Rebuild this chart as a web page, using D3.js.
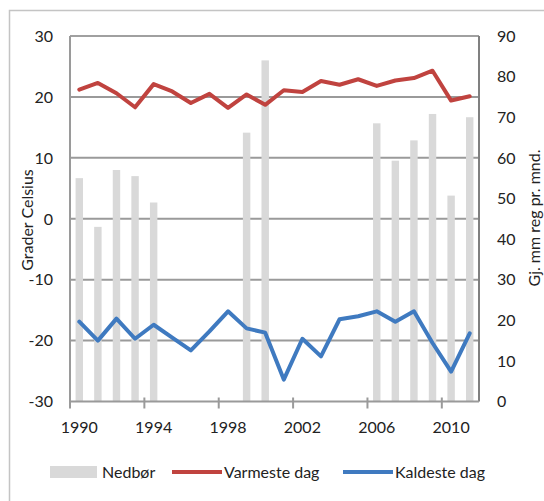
<!DOCTYPE html>
<html>
<head>
<meta charset="utf-8">
<script src="https://cdn.jsdelivr.net/npm/d3@7"></script>
<style>
  html, body { margin: 0; padding: 0; background: #fff; }
  svg { display: block; font-family: Lato, "Open Sans", sans-serif; }
</style>
</head>
<body>
<svg id="chart" width="544" height="501"></svg>
<script>
// ---- data ----
const years = [1990,1991,1992,1993,1994,1995,1996,1997,1998,1999,2000,2001,2002,2003,2004,2005,2006,2007,2008,2009,2010,2011];
const nedbor = [55,43,57,55.5,49,0,0,0,0,66.2,84,0,0,0,0,0,68.5,59.3,64.3,70.8,50.7,70];
const varmeste = [21.2,22.3,20.6,18.3,22.1,20.9,19.0,20.5,18.2,20.4,18.7,21.1,20.8,22.6,22.0,22.9,21.8,22.7,23.1,24.3,19.4,20.1];
const kaldeste = [-16.9,-20.0,-16.4,-19.7,-17.4,-19.5,-21.6,-18.5,-15.2,-18.0,-18.7,-26.4,-19.7,-22.6,-16.5,-16.0,-15.2,-16.9,-15.2,-20.4,-25.1,-18.8];
const leftTicks = [-30,-20,-10,0,10,20,30];
const rightTicks = [0,10,20,30,40,50,60,70,80,90];
const xTickLabels = [1990,1994,1998,2002,2006,2010];
const legendLabels = ["Nedbør","Varmeste dag","Kaldeste dag"];
const yLeftTitle = "Grader Celsius";
const yRightTitle = "Gj. mm reg pr. mnd.";

// ---- layout ----
const L = 70, R = 479, T = 36, B = 401.5;
const svg = d3.select("#chart");
const textColor = "#222";
const red = "#c0433f", blue = "#3f7ac0", barColor = "#d9d9d9";

// outer frame
svg.append("rect").attr("x", 9.5).attr("y", 10.5).attr("width", 560).attr("height", 520)
  .attr("fill", "none").attr("stroke", "#c4c4c4").attr("stroke-width", 1.5);

const x = d3.scaleBand().domain(years).range([L, R]).padding(0);
const yL = d3.scaleLinear().domain([-30, 30]).range([B, T]);
const yR = d3.scaleLinear().domain([0, 90]).range([B, T]);

// gridlines (left axis)
svg.append("g").selectAll("line").data(leftTicks.filter(d => d > -30)).join("line")
  .attr("x1", L).attr("x2", R).attr("y1", d => yL(d)).attr("y2", d => yL(d))
  .attr("stroke", "#9a9a9a").attr("stroke-width", 2);

// plot border: top, right
svg.append("line").attr("x1", L).attr("x2", R).attr("y1", T).attr("y2", T)
  .attr("stroke", "#a0a0a0").attr("stroke-width", 2);
svg.append("line").attr("x1", R).attr("x2", R).attr("y1", T).attr("y2", B)
  .attr("stroke", "#808080").attr("stroke-width", 2);

// bars
const bw = x.bandwidth() * 0.4;
svg.append("g").selectAll("rect").data(years.map((y, i) => ({y, v: nedbor[i]})).filter(d => d.v > 0)).join("rect")
  .attr("x", d => x(d.y) + x.bandwidth() / 2 - bw / 2)
  .attr("width", bw)
  .attr("y", d => yR(d.v))
  .attr("height", d => B - yR(d.v))
  .attr("fill", barColor);

// left axis line
svg.append("line").attr("x1", L).attr("x2", L).attr("y1", T).attr("y2", B)
  .attr("stroke", "#9a9a9a").attr("stroke-width", 2);

// bottom axis
svg.append("line").attr("x1", L).attr("x2", R).attr("y1", B).attr("y2", B)
  .attr("stroke", "#9a9a9a").attr("stroke-width", 2);
const tickIdx = years.map((d, i) => i).filter(i => i % 4 === 0);
svg.append("g").selectAll("line").data(tickIdx).join("line")
  .attr("x1", i => x(years[i])).attr("x2", i => x(years[i]))
  .attr("y1", B - 4).attr("y2", B + 7)
  .attr("stroke", "#9a9a9a").attr("stroke-width", 2);

// lines
const lineL = d3.line().x((d, i) => x(years[i]) + x.bandwidth() / 2).y(d => yL(d));
svg.append("path").attr("d", lineL(varmeste)).attr("fill", "none")
  .attr("stroke", red).attr("stroke-width", 4).attr("stroke-linejoin", "round").attr("stroke-linecap", "round");
svg.append("path").attr("d", lineL(kaldeste)).attr("fill", "none")
  .attr("stroke", blue).attr("stroke-width", 4).attr("stroke-linejoin", "round").attr("stroke-linecap", "round");

// tick labels
svg.append("g").selectAll("text").data(leftTicks).join("text")
  .attr("x", 53).attr("y", d => yL(d)).attr("dy", "0.36em")
  .attr("text-anchor", "end").attr("font-size", 16).attr("fill", textColor)
  .text(d => d);
svg.append("g").selectAll("text").data(rightTicks).join("text")
  .attr("x", 497).attr("y", d => yR(d)).attr("dy", "0.36em")
  .attr("text-anchor", "start").attr("font-size", 16).attr("fill", textColor)
  .text(d => d);
svg.append("g").selectAll("text").data(xTickLabels).join("text")
  .attr("x", d => x(d) + x.bandwidth() / 2).attr("y", 427).attr("dy", "0.36em")
  .attr("text-anchor", "middle").attr("font-size", 16).attr("fill", textColor)
  .text(d => d);

// axis titles
svg.append("text").attr("transform", "translate(27,220) rotate(-90)")
  .attr("text-anchor", "middle").attr("dy", "0.36em").attr("font-size", 16).attr("fill", textColor)
  .text(yLeftTitle);
svg.append("text").attr("transform", "translate(534,218) rotate(-90)")
  .attr("text-anchor", "middle").attr("dy", "0.36em").attr("font-size", 16).attr("fill", textColor)
  .text(yRightTitle);

// legend
const ly = 472;
svg.append("rect").attr("x", 50).attr("y", ly - 6).attr("width", 47).attr("height", 12).attr("fill", barColor);
svg.append("text").attr("x", 102).attr("y", ly).attr("dy", "0.36em").attr("font-size", 16).attr("fill", textColor).text(legendLabels[0]);
svg.append("line").attr("x1", 172).attr("x2", 222).attr("y1", ly).attr("y2", ly).attr("stroke", red).attr("stroke-width", 4);
svg.append("text").attr("x", 224).attr("y", ly).attr("dy", "0.36em").attr("font-size", 16).attr("fill", textColor).text(legendLabels[1]);
svg.append("line").attr("x1", 343).attr("x2", 393).attr("y1", ly).attr("y2", ly).attr("stroke", blue).attr("stroke-width", 4);
svg.append("text").attr("x", 395).attr("y", ly).attr("dy", "0.36em").attr("font-size", 16).attr("fill", textColor).text(legendLabels[2]);
</script>
</body>
</html>
